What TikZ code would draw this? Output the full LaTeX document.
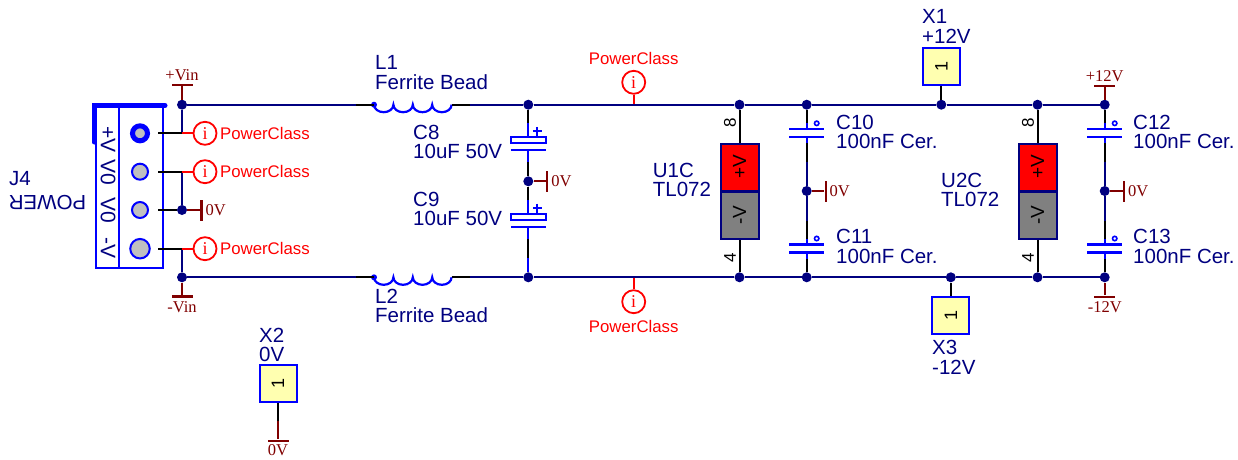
\documentclass[tikz,border=0pt]{standalone}
\usepackage{fontspec}
\setmainfont{Liberation Sans}
\newfontfamily\railfont{Liberation Serif}
\usetikzlibrary{positioning}
\definecolor{wirenavy}{HTML}{000080}
\definecolor{raildark}{HTML}{800000}
\definecolor{pingray}{HTML}{C0C0C0}
\definecolor{boxyellow}{HTML}{FFFFB0}
\tikzset{
wire/.style={draw=wirenavy, line width=2.2pt},
leadw/.style={draw=black, line width=2pt},
bluew/.style={draw=blue, line width=2.2pt},
redw/.style={draw=red, line width=1.8pt},
railw/.style={draw=raildark, line width=2pt},
junc/.style={circle, fill=wirenavy, inner sep=0pt, minimum size=10pt},
lbl/.style={text=wirenavy, inner sep=0pt, anchor=north west, align=left, font=\fontsize{20.5}{19.6}\selectfont},
pintxt/.style={text=black, inner sep=0pt, rotate=90, font=\fontsize{17}{17}\selectfont},
contxt/.style={text=wirenavy, inner sep=0pt, rotate=-90, font=\fontsize{21}{21}\selectfont},
probe/.style={circle, draw=red, line width=1.8pt, fill=white, minimum size=23pt, inner sep=0pt, text=red, font=\railfont\fontsize{18}{18}\selectfont},
probetxt/.style={text=red, inner sep=0pt, font=\fontsize{16.8}{17}\selectfont},
flagh/.style={fill=raildark, inner sep=0pt, minimum width=21pt, minimum height=2.2pt},
flagv/.style={fill=raildark, inner sep=0pt, minimum width=2.2pt, minimum height=21pt},
railtxt/.style={text=raildark, inner sep=0pt, font=\railfont\fontsize{16.5}{16.5}\selectfont},
testbox/.style={draw=blue, line width=2pt, fill=boxyellow, minimum size=37pt, inner sep=0pt, text=black, font=\fontsize{18}{18}\selectfont},
pinhole/.style={circle, draw=blue, line width=2pt, fill=pingray, minimum size=16pt, inner sep=0pt},
opplus/.style={draw=wirenavy, line width=2pt, fill=red, minimum width=47pt, minimum height=38pt, inner sep=0pt, rotate=90, text=black, font=\fontsize{19}{19}\selectfont},
opminus/.style={opplus, fill=gray},
pics/ceramic/.style={code={
    \draw[bluew] (-17.5,-4) -- (17.5,-4);
    \draw[bluew] (-17.5,4) -- (17.5,4);
    \draw[bluew] (0,-10) coordinate (-a) -- (0,-4);
    \draw[bluew] (0,4) -- (0,10) coordinate (-b);
    \draw[draw=blue, line width=1.6pt, fill=white] (10,-10) circle (2.2pt);
}},
pics/polar/.style={code={
    \draw[bluew] (-17.5,-3) rectangle (17.5,3);
    \draw[bluew] (-17.5,10) -- (17.5,10);
    \draw[bluew] (0,-17) coordinate (-a) -- (0,-3);
    \draw[bluew] (0,10) -- (0,22) coordinate (-b);
    \draw[draw=blue, line width=2pt] (4.5,-9) -- (13.5,-9) (9,-13.5) -- (9,-4.5);
}},
pics/ferrite/.style={code={
    \fill[blue] (0,0) circle (3pt);
    \draw[bluew] (0,0) coordinate (-a) arc (180:0:9.7 and 7.5) arc (180:0:9.7 and 7.5) arc (180:0:9.7 and 7.5) arc (180:0:9.7 and 7.5) coordinate (-b);
}},
}

\begin{document}
\begin{tikzpicture}[x=1pt,y=-1pt]
    \useasboundingbox (0,0) rectangle (1238,459);

    \node[draw=blue, line width=2pt, minimum width=67pt, minimum height=163pt, inner sep=0pt] (j4) at (129.5,186.5) {};
    \draw[bluew] (119,105) -- (119,269);
    \draw[draw=blue, line width=5pt, line cap=round] (94,142) -- (94,105.5) -- (165,105.5);
    \node[contxt] (j4a) at (108,139.5) {+V};
    \node[contxt] (j4b) at (108,172) {V0};
    \node[contxt] (j4c) at (108,210) {V0};
    \node[contxt] (j4d) at (108,248) {-V};
    \node[pinhole, line width=5pt, minimum size=15pt] (pin1) at (140,133.3) {};
    \node[pinhole] (pin2) at (140,171.7) {};
    \node[pinhole] (pin3) at (140,210) {};
    \node[pinhole, minimum size=19.5pt] (pin4) at (140,248.7) {};
    \node[lbl] (j4name) at (9,171.6) {J4};
    \node[text=wirenavy, inner sep=0pt, rotate=180, font=\fontsize{20.5}{20}\selectfont] (j4val) at (47.5,203) {POWER};

    \node[junc] (jvin) at (182,104.7) {};
    \node[junc] (jgnd) at (182,210) {};
    \node[junc] (jvout) at (182,277.3) {};
    \coordinate (p1a) at (158,133.3);
    \coordinate (p2a) at (158,171.7);
    \coordinate (p3a) at (158,210);
    \coordinate (p4a) at (158,248.7);
    \coordinate (n1) at (182,133.3);
    \coordinate (n2) at (182,171.7);
    \coordinate (n4) at (182,248.7);
    \draw[wire] (jvin) -- (n1);
    \draw[wire] (n2) -- (jgnd);
    \draw[wire] (n4) -- (jvout);
    \draw[leadw] (p1a) -- (n1);
    \draw[leadw] (p2a) -- (n2);
    \draw[leadw] (p3a) -- (jgnd);
    \draw[leadw] (p4a) -- (n4);

    \node[probe] (pc1) at (205,133.3) {i};
    \node[probe] (pc2) at (205,171.7) {i};
    \node[probe] (pc3) at (205,248.7) {i};
    \draw[redw] (n1) -- (pc1);
    \draw[redw] (n2) -- (pc2);
    \draw[redw] (n4) -- (pc3);
    \node[probetxt, right=2.5pt of pc1] (pc1t) {PowerClass};
    \node[probetxt, right=2.5pt of pc2] (pc2t) {PowerClass};
    \node[probetxt, right=2.5pt of pc3] (pc3t) {PowerClass};

    \node[flagv] (gnd1) at (201.5,210) {};
    \draw[railw] (jgnd) -- (gnd1);
    \node[railtxt, right=2.5pt of gnd1] (gnd1t) {0V};
    \node[flagh] (vin) at (182,85) {};
    \draw[railw] (jvin) -- (vin);
    \node[railtxt, above=2.5pt of vin] (vint) {+Vin};
    \node[flagh] (vout) at (182,296.5) {};
    \draw[railw] (jvout) -- (vout);
    \node[railtxt, below=3.5pt of vout] (voutt) {-Vin};

    \pic (l1) at (374,104.7) {ferrite};
    \pic (l2) at (374,277.3) {ferrite};
    \coordinate (l1w) at (356,104.7);
    \coordinate (l1e) at (470,104.7);
    \coordinate (l2w) at (356,277.3);
    \coordinate (l2e) at (470,277.3);
    \draw[leadw] (l1w) -- (l1-a);
    \draw[leadw] (l1-b) -- (l1e);
    \draw[leadw] (l2w) -- (l2-a);
    \draw[leadw] (l2-b) -- (l2e);
    \draw[wire] (jvin) -- (l1w);
    \draw[wire] (jvout) -- (l2w);
    \node[lbl] (l1t) at (375,55.5) {L1\\Ferrite Bead};
    \node[lbl] (l2t) at (375,288.5) {L2\\Ferrite Bead};

    \node[junc] (j1) at (528.3,104.7) {};
    \node[junc] (j2) at (528.3,277.3) {};
    \node[junc] (j3) at (528.3,181.3) {};
    \pic (c8) at (528.3,140.3) {polar};
    \pic (c9) at (528.3,217) {polar};
    \coordinate (c9e) at (528.3,258);
    \draw[leadw] (j1) -- (c8-a);
    \draw[leadw] (c8-b) -- (j3);
    \draw[leadw] (j3) -- (c9-a);
    \draw[leadw] (c9-b) -- (c9e);
    \draw[bluew] (c9e) -- (j2);
    \node[flagv] (gnd2) at (547.3,181.3) {};
    \draw[railw] (j3) -- (gnd2);
    \node[railtxt, right=2.5pt of gnd2] (gnd2t) {0V};
    \node[lbl] (c8t) at (413,124.5) {C8\\10uF 50V};
    \node[lbl] (c9t) at (413,191.5) {C9\\10uF 50V};

    \node[probe] (pc4) at (633.7,82.3) {i};
    \node[probe] (pc5) at (633.7,301.7) {i};
    \coordinate (n5) at (633.7,104.7);
    \coordinate (n6) at (633.7,277.3);
    \draw[redw] (pc4) -- (n5);
    \draw[redw] (pc5) -- (n6);
    \node[probetxt, above=5pt of pc4] (pc4t) {PowerClass};
    \node[probetxt, below=6pt of pc5] (pc5t) {PowerClass};

    \node[junc] (j4top) at (739.5,104.7) {};
    \node[junc] (j4bot) at (739.5,277.3) {};
    \node[opplus] (u1p) at (739.5,167) {+V};
    \node[opminus] (u1m) at (739.5,215) {-V};
    \draw[leadw] (j4top) -- (u1p);
    \draw[leadw] (u1m) -- (j4bot);
    \node[pintxt] (u1a) at (730,123) {8};
    \node[pintxt] (u1b) at (730,258) {4};
    \node[lbl] (u1t) at (652.7,162.6) {U1C\\TL072};

    \node[junc] (j5top) at (806.7,104.7) {};
    \node[junc] (j5bot) at (806.7,277.3) {};
    \node[junc] (j5) at (806.7,191) {};
    \pic (c10) at (806.7,133.3) {ceramic};
    \pic (c11) at (806.7,248.5) {ceramic};
    \coordinate (c10m) at (806.7,161.7);
    \coordinate (c11m) at (806.7,220.7);
    \draw[leadw] (j5top) -- (c10-a);
    \draw[leadw] (c10-b) -- (c10m);
    \draw[wire] (c10m) -- (j5);
    \draw[wire] (j5) -- (c11m);
    \draw[leadw] (c11m) -- (c11-a);
    \draw[leadw] (c11-b) -- (j5bot);
    \node[flagv] (gnd3) at (825.7,191) {};
    \draw[railw] (j5) -- (gnd3);
    \node[railtxt, right=2.5pt of gnd3] (gnd3t) {0V};
    \node[lbl] (c10t) at (836,114.6) {C10\\100nF Cer.};
    \node[lbl] (c11t) at (836,229.3) {C11\\100nF Cer.};

    \node[testbox] (x1) at (941.3,66.2) {\rotatebox{90}{1}};
    \node[junc] (jx1) at (941.3,104.7) {};
    \draw[leadw] (x1) -- (jx1);
    \node[lbl] (x1t) at (922,9.6) {X1\\+12V};
    \node[testbox] (x3) at (950.8,315.8) {\rotatebox{90}{1}};
    \node[junc] (jx3) at (950.8,277.3) {};
    \draw[leadw] (jx3) -- (x3);
    \node[lbl] (x3t) at (932,340.3) {X3\\-12V};
    \node[testbox] (x2) at (278,383) {\rotatebox{90}{1}};
    \coordinate (x2m) at (278,421);
    \node[flagh] (gnd5) at (278,440.7) {};
    \draw[leadw] (x2) -- (x2m);
    \draw[railw] (x2m) -- (gnd5);
    \node[railtxt, below=2.5pt of gnd5] (gnd5t) {0V};
    \node[lbl] (x2t) at (259,327.6) {X2\\0V};

    \node[junc] (j6top) at (1037.5,104.7) {};
    \node[junc] (j6bot) at (1037.5,277.3) {};
    \node[opplus] (u2p) at (1037.5,167) {+V};
    \node[opminus] (u2m) at (1037.5,215) {-V};
    \draw[leadw] (j6top) -- (u2p);
    \draw[leadw] (u2m) -- (j6bot);
    \node[pintxt] (u2a) at (1028,123) {8};
    \node[pintxt] (u2b) at (1028,258) {4};
    \node[lbl] (u2t) at (941,172.6) {U2C\\TL072};

    \node[junc] (j7top) at (1104.7,104.7) {};
    \node[junc] (j7bot) at (1104.7,277.3) {};
    \node[junc] (j7) at (1104.7,191) {};
    \pic (c12) at (1104.7,133.3) {ceramic};
    \pic (c13) at (1104.7,248.5) {ceramic};
    \coordinate (c12m) at (1104.7,161.7);
    \coordinate (c13m) at (1104.7,220.7);
    \draw[leadw] (j7top) -- (c12-a);
    \draw[leadw] (c12-b) -- (c12m);
    \draw[wire] (c12m) -- (j7);
    \draw[wire] (j7) -- (c13m);
    \draw[leadw] (c13m) -- (c13-a);
    \draw[leadw] (c13-b) -- (j7bot);
    \node[flagv] (gnd4) at (1124,191) {};
    \draw[railw] (j7) -- (gnd4);
    \node[railtxt, right=2.5pt of gnd4] (gnd4t) {0V};
    \node[flagh] (p12) at (1104.7,85.7) {};
    \draw[railw] (j7top) -- (p12);
    \node[railtxt, above=2pt of p12] (p12t) {+12V};
    \node[flagh] (m12) at (1104.7,296.7) {};
    \draw[railw] (j7bot) -- (m12);
    \node[railtxt, below=3pt of m12] (m12t) {-12V};
    \node[lbl] (c12t) at (1133,114.6) {C12\\100nF Cer.};
    \node[lbl] (c13t) at (1133,229.3) {C13\\100nF Cer.};

    \draw[wire] (l1e) -- (j1);
    \draw[wire] (j1) -- (j4top);
    \draw[wire] (j4top) -- (j5top);
    \draw[wire] (j5top) -- (jx1);
    \draw[wire] (jx1) -- (j6top);
    \draw[wire] (j6top) -- (j7top);
    \draw[wire] (l2e) -- (j2);
    \draw[wire] (j2) -- (j4bot);
    \draw[wire] (j4bot) -- (j5bot);
    \draw[wire] (j5bot) -- (jx3);
    \draw[wire] (jx3) -- (j6bot);
    \draw[wire] (j6bot) -- (j7bot);
\end{tikzpicture}
\end{document}
